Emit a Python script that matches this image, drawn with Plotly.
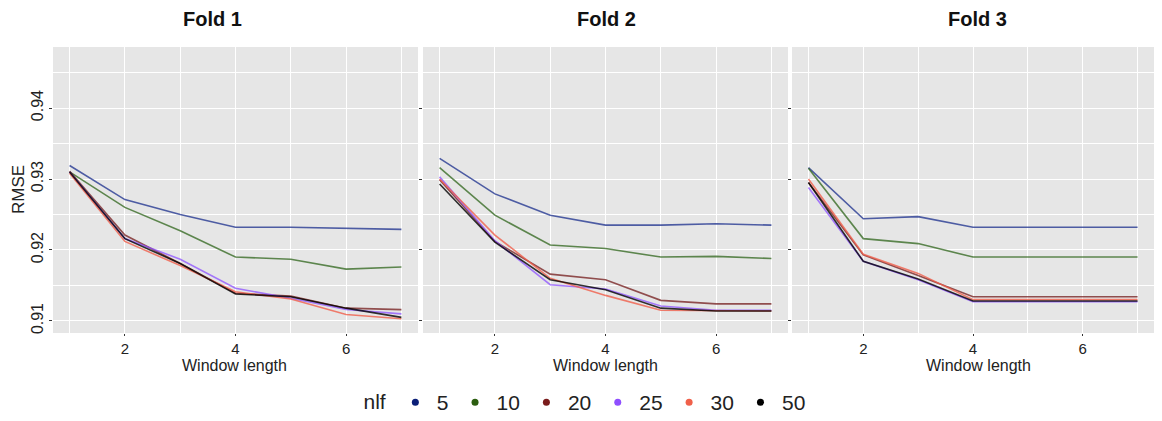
import plotly.graph_objects as go

# The page body has an 8px margin, so the figure is sized to fit the window
OFF = 8
W, H = 1162 - 2 * OFF, 421 - 2 * OFF

window = [1, 2, 3, 4, 5, 6, 7]
nlf_levels = ["5", "10", "20", "25", "30", "50"]

fold1 = {
    "5":  [0.9319, 0.9271, 0.9250, 0.9232, 0.9232, 0.9230, 0.9229],
    "10": [0.9310, 0.9260, 0.9227, 0.9190, 0.9187, 0.9173, 0.9176],
    "20": [0.9311, 0.9221, 0.9181, 0.9139, 0.9135, 0.9118, 0.9116],
    "25": [0.9310, 0.9216, 0.9187, 0.9146, 0.9132, 0.9116, 0.9110],
    "30": [0.9308, 0.9212, 0.9178, 0.9141, 0.9131, 0.9109, 0.9103],
    "50": [0.9310, 0.9216, 0.9181, 0.9138, 0.9134, 0.9118, 0.9105],
}
fold2 = {
    "5":  [0.9329, 0.9279, 0.9249, 0.9235, 0.9235, 0.9237, 0.9235],
    "10": [0.9316, 0.9249, 0.9207, 0.9202, 0.9190, 0.9191, 0.9188],
    "20": [0.9299, 0.9212, 0.9166, 0.9158, 0.9129, 0.9124, 0.9124],
    "25": [0.9303, 0.9213, 0.9151, 0.9145, 0.9121, 0.9115, 0.9115],
    "30": [0.9300, 0.9221, 0.9160, 0.9136, 0.9115, 0.9114, 0.9114],
    "50": [0.9293, 0.9211, 0.9158, 0.9144, 0.9118, 0.9114, 0.9114],
}
fold3 = {
    "5":  [0.9316, 0.9244, 0.9247, 0.9232, 0.9232, 0.9232, 0.9232],
    "10": [0.9315, 0.9216, 0.9209, 0.9190, 0.9190, 0.9190, 0.9190],
    "20": [0.9295, 0.9193, 0.9164, 0.9134, 0.9134, 0.9134, 0.9134],
    "25": [0.9288, 0.9184, 0.9158, 0.9127, 0.9127, 0.9127, 0.9127],
    "30": [0.9300, 0.9194, 0.9167, 0.9130, 0.9130, 0.9130, 0.9130],
    "50": [0.9295, 0.9184, 0.9159, 0.9128, 0.9128, 0.9128, 0.9128],
}
folds = [("Fold 1", fold1), ("Fold 2", fold2), ("Fold 3", fold3)]

line_colors = {
    "5": "rgba(25,45,140,0.75)",
    "10": "rgba(45,100,25,0.75)",
    "20": "rgba(115,25,25,0.75)",
    "25": "rgba(140,80,255,0.75)",
    "30": "rgba(240,95,75,0.8)",
    "50": "rgba(0,0,0,0.8)",
}
legend_colors = {
    "5": "#0b1f78", "10": "#2c5e10", "20": "#7a1c1c",
    "25": "#8f4fff", "30": "#f0604a", "50": "#000000",
}

y_ticks = [0.91, 0.92, 0.93, 0.94]
x_ticks = [2, 4, 6]

# layout positions in window pixels (reference image coordinates)
panels_px = [(53, 418), (423, 788), (792, 1157)]
title_cx = [212, 606, 977]
xlab_cx = [234, 605, 978]
top_px, bot_px = 47, 333


def px(x):
    return (x - OFF) / W


def py(y):
    return 1 - (y - OFF) / H


fig = go.Figure()
FONT = "Liberation Sans, Arial, sans-serif"

for i, (title, data) in enumerate(folds):
    ax = "" if i == 0 else str(i + 1)
    for lvl in nlf_levels:
        fig.add_trace(go.Scatter(
            x=window, y=data[lvl], mode="lines",
            line=dict(color=line_colors[lvl], width=1.6),
            xaxis="x" + ax, yaxis="y" + ax, showlegend=False,
            hoverinfo="skip",
        ))
    x0, x1 = panels_px[i]
    dom_x = [max(0, px(x0)), min(1, px(x1))]
    dom_y = [py(bot_px), py(top_px)]
    fig.layout["xaxis" + ax] = dict(
        domain=dom_x, range=[0.7, 7.3], tickvals=x_ticks,
        showgrid=True, gridcolor="white", gridwidth=1.2,
        minor=dict(tickvals=[1, 3, 5, 7], showgrid=True, gridcolor="white", gridwidth=0.6),
        zeroline=False, ticks="outside", ticklen=2, tickcolor="#333333",
        tickfont=dict(size=15, color="#222222", family=FONT),
        anchor="y" + ax, fixedrange=True, automargin=False,
    )
    fig.layout["yaxis" + ax] = dict(
        domain=dom_y, range=[0.9083, 0.9486], tickvals=y_ticks,
        ticktext=[f"{v:.2f}" for v in y_ticks],
        showticklabels=(i == 0), tickangle=-90,
        showgrid=True, gridcolor="white", gridwidth=1.2,
        minor=dict(tickvals=[0.915, 0.925, 0.935, 0.945], showgrid=True, gridcolor="white", gridwidth=0.6),
        zeroline=False, ticks="outside", ticklen=3, tickcolor="#333333",
        tickfont=dict(size=16, color="#222222", family=FONT),
        anchor="x" + ax, fixedrange=True, automargin=False,
    )
    fig.add_shape(type="rect", xref="paper", yref="paper",
                  x0=dom_x[0], x1=dom_x[1], y0=dom_y[0], y1=dom_y[1],
                  fillcolor="#e6e6e6", line=dict(width=0), layer="below")
    fig.add_annotation(text=f"<b>{title}</b>", x=px(title_cx[i]), y=py(19),
                       xref="paper", yref="paper", showarrow=False,
                       xanchor="center", yanchor="middle",
                       font=dict(size=20, color="#111111", family=FONT))
    fig.add_annotation(text="Window length", x=px(xlab_cx[i]), y=py(365),
                       xref="paper", yref="paper", showarrow=False,
                       xanchor="center", yanchor="middle", borderpad=0,
                       font=dict(size=16, color="#222222", family=FONT))

fig.add_annotation(text="RMSE", x=px(18), y=py(190), xref="paper", yref="paper",
                   showarrow=False, textangle=-90, xanchor="center", yanchor="middle",
                   font=dict(size=17, color="#222222", family=FONT))

# legend-only traces
for lvl in nlf_levels:
    fig.add_trace(go.Scatter(
        x=[None], y=[None], mode="markers", name=lvl,
        marker=dict(color=legend_colors[lvl], size=7),
        showlegend=True,
    ))

fig.update_layout(
    width=W, height=H,
    margin=dict(l=0, r=0, t=0, b=0, autoexpand=False),
    paper_bgcolor="white", plot_bgcolor="rgba(0,0,0,0)",
    font=dict(family=FONT),
    legend=dict(
        orientation="h", x=px(586), xanchor="center", y=py(382), yanchor="top",
        title=dict(text="nlf", font=dict(size=21, color="#222222", family=FONT)),
        font=dict(size=21, color="#222222", family=FONT),
        bgcolor="rgba(0,0,0,0)", itemwidth=33,
    ),
    showlegend=True,
)

fig.write_html("out.html")
